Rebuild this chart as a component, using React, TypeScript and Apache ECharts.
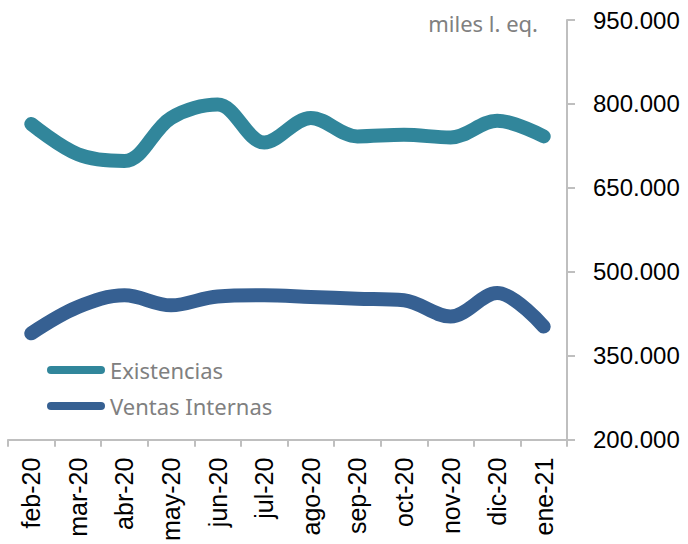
import React, { useEffect, useRef } from "react";
import * as echarts from "echarts";

const categories = ["feb-20", "mar-20", "abr-20", "may-20", "jun-20", "jul-20", "ago-20", "sep-20", "oct-20", "nov-20", "dic-20", "ene-21"];
const existencias = [764000, 710000, 698000, 775000, 799000, 731000, 775000, 742000, 745000, 740000, 770000, 742000];
const ventasInternas = [390000, 437000, 458000, 440000, 456000, 458000, 455000, 452000, 449000, 420000, 462000, 402000];
const seriesNames = ["Existencias", "Ventas Internas"];
const unitLabel = "miles l. eq.";
const yMin = 200000;
const yMax = 950000;
const yStep = 150000;

const fmt = (v: number) => {
  const s = Math.round(v).toString();
  return s.replace(/\B(?=(\d{3})+(?!\d))/g, ".");
};

const legendIcon = "path://M4,0 L54,0 A4,4 0 0 1 54,8 L4,8 A4,4 0 0 1 4,0 Z";

export default function App() {
  const ref = useRef<HTMLDivElement>(null);
  useEffect(() => {
    if (!ref.current) return;
    const chart = echarts.init(ref.current, undefined, { renderer: "svg" });
    const axisColor = "#bfbfbf";
    chart.setOption({
      animation: false,
      backgroundColor: "#ffffff",
      grid: { left: 8, top: 20, width: 559, height: 420, containLabel: false },
      legend: {
        orient: "vertical",
        left: 42,
        top: 354,
        itemWidth: 58,
        itemHeight: 8,
        itemGap: 14,
        icon: legendIcon,
        textStyle: { fontFamily: "Noto Sans", fontSize: 22, color: "#808080", lineHeight: 22 },
        data: seriesNames,
      },
      graphic: [
        {
          type: "text",
          right: 150,
          top: 12,
          style: { text: unitLabel, fontFamily: "Noto Sans", fontSize: 22, fill: "#808080" },
        },
      ],
      xAxis: {
        type: "category",
        data: categories,
        boundaryGap: true,
        axisLine: { show: true, lineStyle: { color: axisColor, width: 2 } },
        axisTick: { show: true, interval: 0, length: 7, lineStyle: { color: axisColor, width: 2 } },
        axisLabel: { interval: 0, rotate: 90, margin: 18, fontFamily: "Liberation Sans", fontSize: 25, color: "#000000" },
        splitLine: { show: false },
      },
      yAxis: {
        type: "value",
        position: "right",
        min: yMin,
        max: yMax,
        interval: yStep,
        axisLine: { show: true, lineStyle: { color: axisColor, width: 2 } },
        axisTick: { show: true, length: 8, lineStyle: { color: axisColor, width: 2 } },
        axisLabel: { margin: 26, fontFamily: "Liberation Sans", fontSize: 24, color: "#000000", formatter: (v: number) => fmt(v) },
        splitLine: { show: false },
      },
      series: [
        {
          name: seriesNames[0],
          type: "line",
          data: existencias,
          smooth: 0.35,
          showSymbol: false,
          symbol: "none",
          color: "#31869B",
          lineStyle: { width: 14, color: "#31869B", cap: "round", join: "round" },
        },
        {
          name: seriesNames[1],
          type: "line",
          data: ventasInternas,
          smooth: 0.35,
          showSymbol: false,
          symbol: "none",
          color: "#366092",
          lineStyle: { width: 14, color: "#366092", cap: "round", join: "round" },
        },
      ],
    });
    return () => chart.dispose();
  }, []);
  return <div ref={ref} style={{ width: 688, height: 544, position: "absolute", left: 0, top: 0 }} />;
}
